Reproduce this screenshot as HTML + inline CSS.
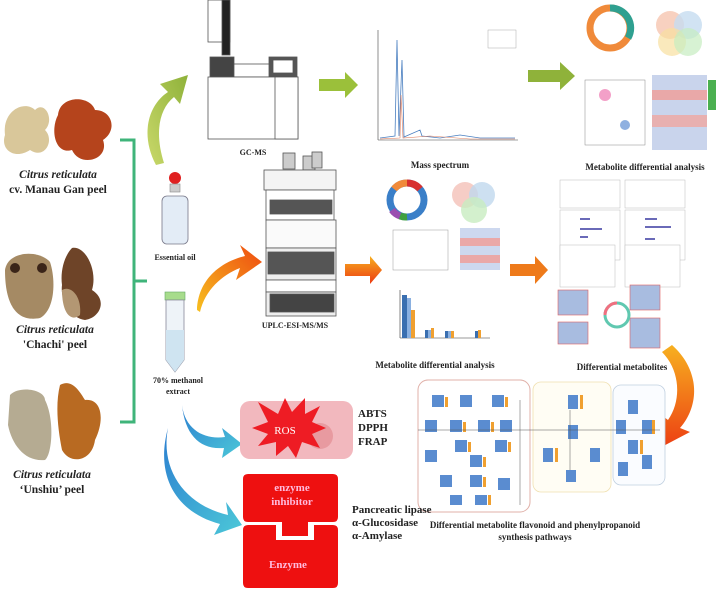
<!DOCTYPE html>
<html><head><meta charset="utf-8"><style>
html,body{margin:0;padding:0;background:#fff}
svg{display:block}
text{font-family:"Liberation Serif",serif;font-weight:bold;fill:#222}
</style></head><body>
<svg width="728" height="590" viewBox="0 0 728 590" xmlns="http://www.w3.org/2000/svg">
<defs>
<linearGradient id="gGreen" x1="0" y1="1" x2="1" y2="0"><stop offset="0" stop-color="#c9d86a"/><stop offset="1" stop-color="#8fb23a"/></linearGradient>
<linearGradient id="gOr" x1="0" y1="1" x2="1" y2="0"><stop offset="0" stop-color="#f7c020"/><stop offset="1" stop-color="#ee4a10"/></linearGradient>
<linearGradient id="gOr2" x1="0" y1="0" x2="0" y2="1"><stop offset="0" stop-color="#f7b020"/><stop offset="1" stop-color="#ec3a12"/></linearGradient>
<linearGradient id="gCy" x1="0" y1="0" x2="1" y2="1"><stop offset="0" stop-color="#2c7fd0"/><stop offset="1" stop-color="#4cc8d8"/></linearGradient>
</defs>

<!-- peels -->
<g>
<path d="M5,135 C2,110 25,100 35,110 C45,100 55,120 45,130 C55,140 45,160 30,150 C15,160 0,150 5,135Z" fill="#d9c79a"/>
<path d="M58,115 C60,95 90,95 95,110 C112,110 118,130 103,140 C110,160 80,168 72,150 C55,155 50,130 58,115Z" fill="#b5441c"/>
<text x="58" y="178" font-size="11.5" text-anchor="middle" font-style="italic">Citrus reticulata</text>
<text x="58" y="193" font-size="11.5" text-anchor="middle">cv. Manau Gan peel</text>

<path d="M5,270 C8,250 40,250 50,262 C56,280 55,310 40,318 C20,322 5,310 5,270Z" fill="#a58a64"/>
<circle cx="15" cy="268" r="5" fill="#3a2418"/><circle cx="42" cy="268" r="5" fill="#3a2418"/>
<path d="M72,248 C85,245 98,270 92,290 C108,300 100,318 85,320 C70,318 60,300 62,285 C60,270 65,255 72,248Z" fill="#6e4428"/>
<path d="M62,290 C70,285 82,295 80,315 C72,322 62,315 62,290Z" fill="#b39773"/>
<text x="55" y="333" font-size="11.5" text-anchor="middle" font-style="italic">Citrus reticulata</text>
<text x="55" y="348" font-size="11.5" text-anchor="middle">'Chachi' peel</text>

<path d="M10,395 C20,385 45,390 45,400 C55,420 52,455 45,460 C25,462 12,445 8,425Z" fill="#b5ab92"/>
<path d="M60,385 C72,378 80,392 85,400 C102,398 105,420 95,440 C92,462 70,465 62,450 C58,430 55,405 60,385Z" fill="#b86a22"/>
<text x="52" y="478" font-size="11.5" text-anchor="middle" font-style="italic">Citrus reticulata</text>
<text x="52" y="493" font-size="11.5" text-anchor="middle">‘Unshiu’ peel</text>
</g>

<!-- bracket -->
<path d="M120,140 H134 V422 H120 M134,281 H147" fill="none" stroke="#3fb47a" stroke-width="3"/>

<!-- essential oil bottle -->
<circle cx="175" cy="178" r="6" fill="#e02020"/>
<rect x="170" y="184" width="10" height="8" fill="#ccc" stroke="#888" stroke-width=".6"/>
<rect x="162" y="196" width="26" height="48" rx="5" fill="#e3ecf6" stroke="#778" stroke-width=".8"/>
<text x="175" y="260" font-size="8" text-anchor="middle">Essential oil</text>

<!-- tube -->
<rect x="165" y="292" width="20" height="8" fill="#a7dc8c" stroke="#6a6" stroke-width=".6"/>
<path d="M166,300 V360 L175,372 L184,360 V300Z" fill="#eef3f8" stroke="#889" stroke-width=".8"/>
<path d="M166,330 V360 L175,372 L184,360 V330Z" fill="#cfe4f1"/>
<text x="178" y="383" font-size="8" text-anchor="middle">70% methanol</text>
<text x="178" y="394" font-size="8" text-anchor="middle">extract</text>

<!-- curved arrows -->
<path d="M156,165 C140,135 148,105 168,92 L160,84 L188,75 L180,104 L174,97 C158,110 155,135 164,163Z" fill="url(#gGreen)"/>
<path d="M197,310 C198,280 220,262 245,256 L240,245 L262,262 L236,280 L240,268 C222,275 205,290 200,312Z" fill="url(#gOr)"/>
<path d="M182,405 C185,430 205,440 225,437 L222,428 L242,444 L222,458 L224,448 C200,450 185,435 182,405Z" fill="url(#gCy)"/>
<path d="M168,428 C160,470 185,505 228,515 L226,502 L242,525 L214,535 L220,524 C175,512 155,475 168,428Z" fill="url(#gCy)"/>

<!-- straight arrows -->
<polygon points="319,79 345,79 345,72 358,85 345,98 345,91 319,91" fill="#9bc03a"/>
<polygon points="528,70 560,70 560,62 575,76 560,90 560,82 528,82" fill="#8fb23a"/>
<polygon points="345,264 370,264 370,256 382,270 370,284 370,276 345,276" fill="url(#gOr2)"/>
<polygon points="510,264 535,264 535,256 548,270 535,284 535,276 510,276" fill="#ee7a1a"/>
<path d="M672,345 C700,370 700,405 680,428 L690,432 L652,452 L660,414 L668,420 C682,400 680,370 662,352Z" fill="url(#gOr2)"/>

<!-- GC-MS -->
<g stroke="#555" stroke-width=".8">
<rect x="208" y="0" width="22" height="42" fill="#fff"/>
<rect x="222" y="0" width="8" height="55" fill="#222"/>
<rect x="210" y="57" width="24" height="20" fill="#444"/>
<rect x="234" y="64" width="40" height="13" fill="#fff"/>
<rect x="269" y="57" width="28" height="20" fill="#555"/>
<rect x="273" y="60" width="20" height="13" fill="#fff"/>
<rect x="208" y="77" width="90" height="62" fill="#fff"/>
<rect x="275" y="77" width="23" height="62" fill="#fff"/>
</g>
<text x="253" y="155" font-size="8" text-anchor="middle">GC-MS</text>

<!-- UPLC -->
<g stroke="#555" stroke-width=".8">
<rect x="283" y="153" width="12" height="16" fill="#ccc"/><rect x="303" y="156" width="12" height="14" fill="#ccc"/><rect x="312" y="152" width="10" height="16" fill="#ccc"/>
<rect x="264" y="170" width="72" height="20" fill="#f4f4f4"/>
<rect x="266" y="190" width="68" height="30" fill="#fff"/>
<rect x="270" y="200" width="62" height="14" fill="#555"/>
<rect x="266" y="220" width="70" height="28" fill="#fafafa"/>
<rect x="266" y="248" width="70" height="32" fill="#eee"/>
<rect x="268" y="252" width="66" height="22" fill="#555"/>
<rect x="266" y="280" width="70" height="12" fill="#fff"/>
<rect x="266" y="292" width="70" height="24" fill="#eee"/>
<rect x="270" y="294" width="64" height="18" fill="#444"/>
</g>
<text x="295" y="328" font-size="8" text-anchor="middle">UPLC-ESI-MS/MS</text>

<!-- Mass spectrum -->
<g>
<line x1="378" y1="30" x2="378" y2="140" stroke="#444" stroke-width=".6"/>
<line x1="378" y1="140" x2="518" y2="140" stroke="#444" stroke-width=".6"/>
<path d="M380,138 L395,136 L397,40 L399,136 L402,60 L404,137 L420,130 L422,136 L440,138 L460,135 L480,138 L515,138" fill="none" stroke="#4a7fc0" stroke-width=".8"/>
<path d="M380,139 L400,138 L401,95 L403,138 L430,136 L470,139 L515,139" fill="none" stroke="#e08060" stroke-width=".6"/>
<rect x="488" y="30" width="28" height="18" fill="#fff" stroke="#999" stroke-width=".4"/>
<text x="440" y="168" font-size="9" text-anchor="middle">Mass spectrum</text>
</g>

<!-- Top-right metabolite analysis -->
<g>
<circle cx="610" cy="28" r="20" fill="none" stroke="#f08a3a" stroke-width="7"/>
<path d="M610,8 A20,20 0 0 1 628,38" fill="none" stroke="#2fa090" stroke-width="7"/>
<circle cx="670" cy="25" r="14" fill="#f6c6b0" opacity=".8"/><circle cx="688" cy="25" r="14" fill="#c6dcf0" opacity=".8"/>
<circle cx="672" cy="42" r="14" fill="#f8e0a0" opacity=".7"/><circle cx="688" cy="42" r="14" fill="#c6ecc0" opacity=".7"/>
<rect x="585" y="80" width="60" height="65" fill="#fff" stroke="#888" stroke-width=".5"/>
<circle cx="605" cy="95" r="6" fill="#f3a0c8"/><circle cx="625" cy="125" r="5" fill="#8fb0e0"/>
<rect x="652" y="75" width="55" height="75" fill="#c9d4ec"/>
<rect x="652" y="90" width="55" height="10" fill="#e9a8a8"/><rect x="652" y="115" width="55" height="12" fill="#e8b0b0"/>
<rect x="708" y="80" width="8" height="30" fill="#4bb050"/>
<text x="645" y="170" font-size="9" text-anchor="middle">Metabolite differential analysis</text>
</g>

<!-- middle analysis -->
<g>
<circle cx="407" cy="200" r="17" fill="none" stroke="#3a7fc8" stroke-width="7"/>
<path d="M394,189 A17,17 0 0 1 407,183" fill="none" stroke="#f08a3a" stroke-width="7"/>
<path d="M392,210 A17,17 0 0 0 400,216" fill="none" stroke="#9a4fb0" stroke-width="7"/>
<path d="M407,183 A17,17 0 0 1 420,189" fill="none" stroke="#d83030" stroke-width="7"/>
<path d="M400,216 A17,17 0 0 0 407,217" fill="none" stroke="#40a040" stroke-width="7"/>
<circle cx="465" cy="195" r="13" fill="#f4c0b8" opacity=".8"/><circle cx="482" cy="195" r="13" fill="#c0d8ee" opacity=".8"/><circle cx="474" cy="210" r="13" fill="#c8ecc0" opacity=".8"/>
<rect x="393" y="230" width="55" height="40" fill="#fff" stroke="#999" stroke-width=".5"/>
<rect x="460" y="228" width="40" height="42" fill="#cdd8ef"/>
<rect x="460" y="238" width="40" height="8" fill="#eaa8a8"/><rect x="460" y="255" width="40" height="8" fill="#eaa8a8"/>
<line x1="400" y1="290" x2="400" y2="338" stroke="#333" stroke-width=".6"/><line x1="400" y1="338" x2="490" y2="338" stroke="#333" stroke-width=".6"/>
<rect x="402" y="295" width="5" height="43" fill="#3a6fb0"/><rect x="407" y="298" width="4" height="40" fill="#8ab0e0"/><rect x="411" y="310" width="4" height="28" fill="#f0a030"/>
<rect x="425" y="330" width="3" height="8" fill="#3a6fb0"/><rect x="428" y="330" width="3" height="8" fill="#8ab0e0"/><rect x="431" y="328" width="3" height="10" fill="#f0a030"/>
<rect x="445" y="331" width="3" height="7" fill="#3a6fb0"/><rect x="448" y="331" width="3" height="7" fill="#8ab0e0"/><rect x="451" y="331" width="3" height="7" fill="#f0a030"/>
<rect x="475" y="331" width="3" height="7" fill="#3a6fb0"/><rect x="478" y="330" width="3" height="8" fill="#f0a030"/>
<text x="435" y="368" font-size="9" text-anchor="middle">Metabolite differential analysis</text>
</g>

<!-- differential metabolites -->
<g stroke="#bbb" stroke-width=".5" fill="#fff">
<rect x="560" y="180" width="60" height="28"/><rect x="625" y="180" width="60" height="28"/>
<rect x="560" y="210" width="60" height="50"/><rect x="625" y="210" width="60" height="50"/>
<rect x="560" y="245" width="55" height="42"/><rect x="625" y="245" width="55" height="42"/>
</g>
<g fill="#6a6ab8"><rect x="580" y="218" width="10" height="2"/><rect x="580" y="228" width="22" height="2"/><rect x="580" y="236" width="8" height="2"/><rect x="645" y="218" width="12" height="2"/><rect x="645" y="226" width="26" height="2"/><rect x="645" y="238" width="10" height="2"/></g>
<g>
<rect x="558" y="290" width="30" height="25" fill="#a8bce0" stroke="#e06060" stroke-width=".6"/>
<rect x="630" y="285" width="30" height="25" fill="#a8bce0" stroke="#e06060" stroke-width=".6"/>
<rect x="558" y="322" width="30" height="22" fill="#a8bce0" stroke="#e06060" stroke-width=".6"/>
<rect x="630" y="318" width="30" height="30" fill="#a8bce0" stroke="#e06060" stroke-width=".6"/>
<circle cx="617" cy="315" r="12" fill="none" stroke="#60c8b0" stroke-width="3"/>
<path d="M605,315 A12,12 0 0 1 617,303" fill="none" stroke="#f07080" stroke-width="3"/>
<text x="622" y="370" font-size="9" text-anchor="middle">Differential metabolites</text>
</g>

<!-- pathway box -->
<g>
<rect x="418" y="380" width="112" height="132" rx="10" fill="#fff" stroke="#e0b0a8" stroke-width="1"/>
<rect x="533" y="382" width="78" height="110" rx="8" fill="#fffdf4" stroke="#f0e0b0" stroke-width=".8"/>
<rect x="613" y="385" width="52" height="100" rx="8" fill="#fafcff" stroke="#c0d0e0" stroke-width=".8"/>
<g fill="#5a8cd0">
<rect x="432" y="395" width="12" height="12"/><rect x="460" y="395" width="12" height="12"/><rect x="492" y="395" width="12" height="12"/>
<rect x="425" y="420" width="12" height="12"/><rect x="450" y="420" width="12" height="12"/><rect x="478" y="420" width="12" height="12"/><rect x="500" y="420" width="12" height="12"/>
<rect x="455" y="440" width="12" height="12"/><rect x="495" y="440" width="12" height="12"/>
<rect x="425" y="450" width="12" height="12"/><rect x="470" y="455" width="12" height="12"/>
<rect x="440" y="475" width="12" height="12"/><rect x="470" y="475" width="12" height="12"/><rect x="498" y="478" width="12" height="12"/>
<rect x="450" y="495" width="12" height="10"/><rect x="475" y="495" width="12" height="10"/>
<rect x="568" y="395" width="10" height="14"/><rect x="568" y="425" width="10" height="14"/><rect x="543" y="448" width="10" height="14"/><rect x="590" y="448" width="10" height="14"/><rect x="566" y="470" width="10" height="12"/>
<rect x="628" y="400" width="10" height="14"/><rect x="616" y="420" width="10" height="14"/><rect x="642" y="420" width="10" height="14"/><rect x="628" y="440" width="10" height="14"/><rect x="642" y="455" width="10" height="14"/><rect x="618" y="462" width="10" height="14"/>
</g>
<g fill="#f0a030">
<rect x="445" y="397" width="3" height="10"/><rect x="505" y="397" width="3" height="10"/><rect x="463" y="422" width="3" height="10"/><rect x="491" y="422" width="3" height="10"/><rect x="468" y="442" width="3" height="10"/><rect x="508" y="442" width="3" height="10"/><rect x="483" y="457" width="3" height="10"/><rect x="483" y="477" width="3" height="10"/><rect x="488" y="495" width="3" height="10"/>
<rect x="580" y="395" width="3" height="14"/><rect x="555" y="448" width="3" height="14"/><rect x="652" y="420" width="3" height="14"/><rect x="640" y="440" width="3" height="14"/>
</g>
<g stroke="#555" stroke-width=".5"><line x1="418" y1="430" x2="660" y2="430"/><line x1="520" y1="400" x2="520" y2="505"/><line x1="570" y1="410" x2="570" y2="470"/></g>
<text x="535" y="528" font-size="9" text-anchor="middle">Differential metabolite flavonoid and phenylpropanoid</text>
<text x="535" y="540" font-size="9" text-anchor="middle">synthesis pathways</text>
</g>

<!-- ROS -->
<rect x="240" y="401" width="113" height="58" rx="10" fill="#f2b8be"/>
<circle cx="320" cy="436" r="13" fill="#e89aa0"/>
<polygon points="258,402 278,414 285,398 292,412 305,398 305,414 320,406 312,422 326,428 312,434 320,448 302,442 296,458 288,446 276,456 276,442 258,446 268,434 252,428 268,422" fill="#ee1c24"/>
<text x="285" y="434" font-size="11" text-anchor="middle" style="fill:#fff;font-weight:normal">ROS</text>
<text x="358" y="417" font-size="11">ABTS</text>
<text x="358" y="431" font-size="11">DPPH</text>
<text x="358" y="445" font-size="11">FRAP</text>

<!-- enzyme -->
<path d="M248,474 H333 Q338,474 338,479 V517 Q338,522 333,522 H308 V536 H282 V522 H248 Q243,522 243,517 V479 Q243,474 248,474Z" fill="#ee1010"/>
<path d="M248,525 H276 V540 H314 V525 H333 Q338,525 338,530 V583 Q338,588 333,588 H248 Q243,588 243,583 V530 Q243,525 248,525Z" fill="#ee1010"/>
<text x="292" y="491" font-size="11" text-anchor="middle" style="fill:#fbd">enzyme</text>
<text x="292" y="505" font-size="11" text-anchor="middle" style="fill:#fbd">inhibitor</text>
<text x="288" y="568" font-size="11" text-anchor="middle" style="fill:#fbd">Enzyme</text>
<text x="352" y="513" font-size="11">Pancreatic lipase</text>
<text x="352" y="526" font-size="11">α-Glucosidase</text>
<text x="352" y="539" font-size="11">α-Amylase</text>
</svg>
</body></html>
